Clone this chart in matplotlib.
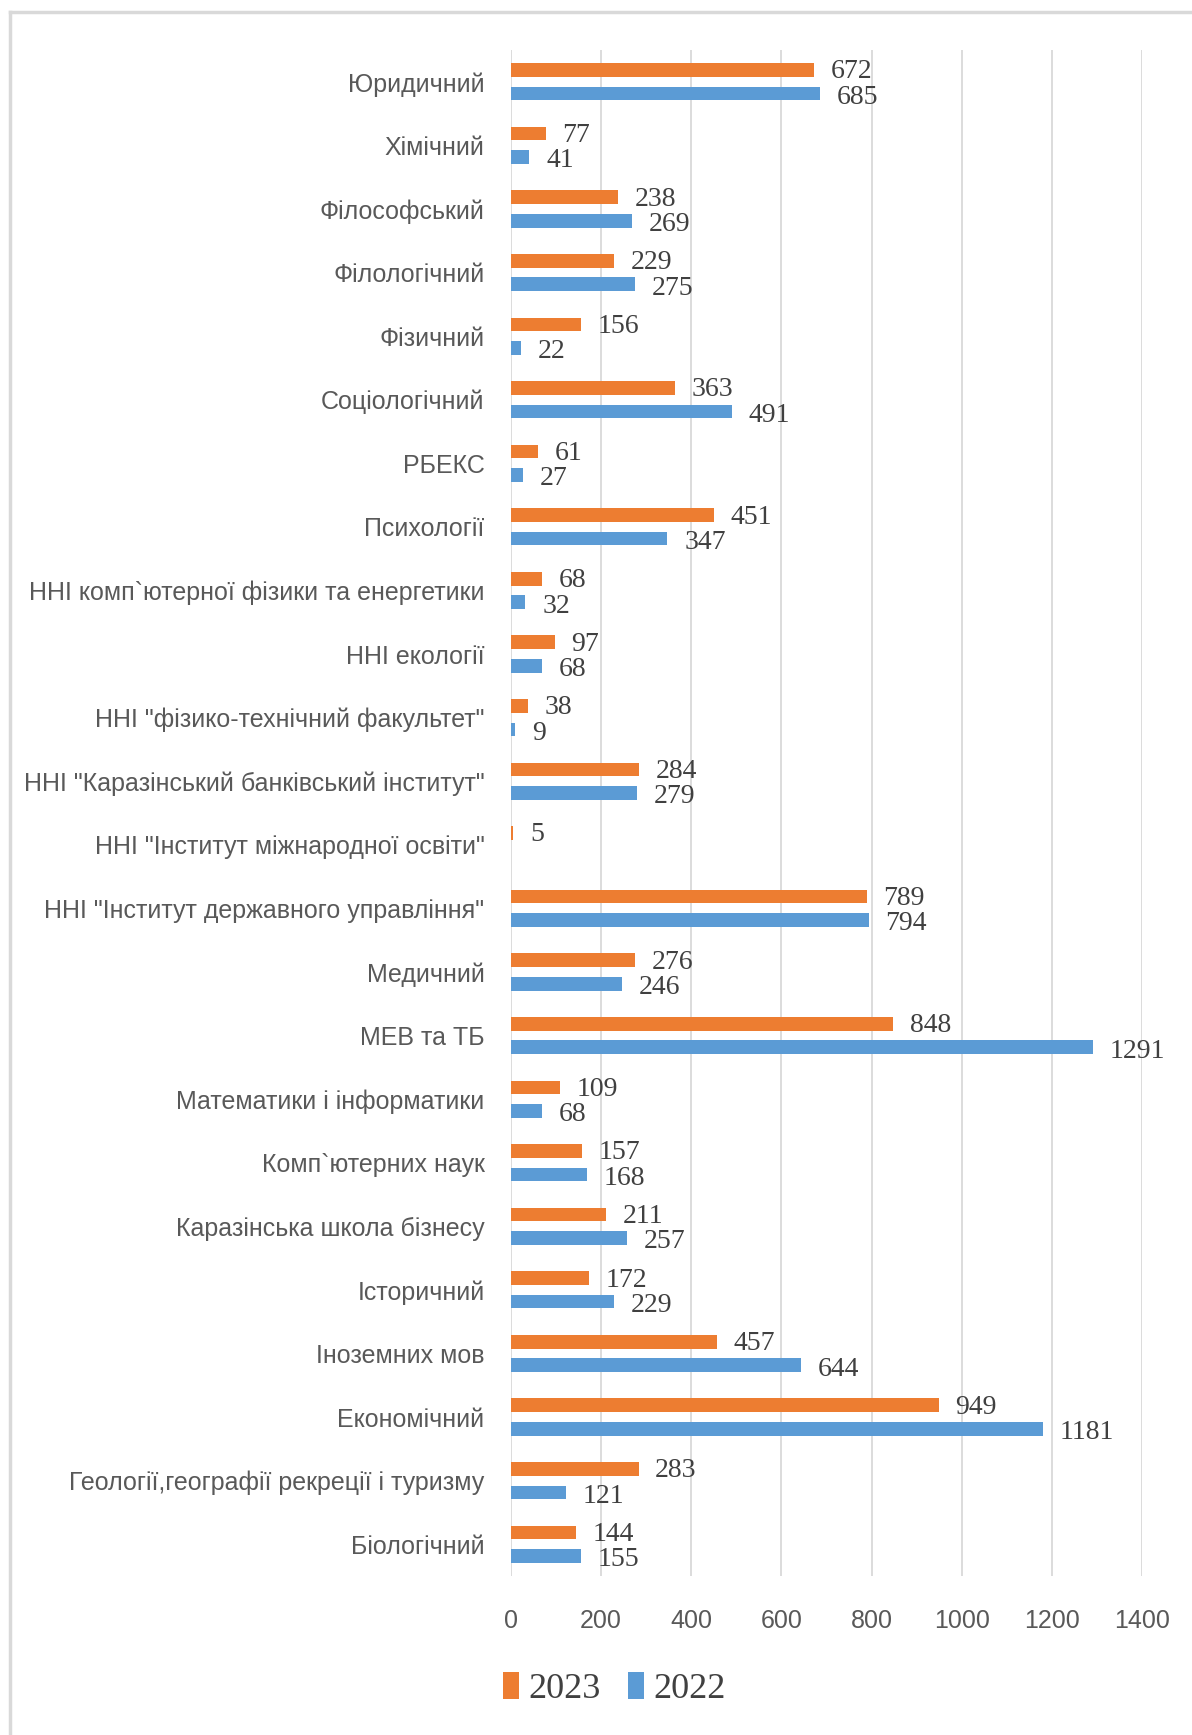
import numpy as np
import matplotlib
matplotlib.use("Agg")
import matplotlib.pyplot as plt
from matplotlib.lines import Line2D

# data (top to bottom as in the picture)
categories = ["Юридичний", "Хімічний", "Філософський", "Філологічний", "Фізичний",
              "Соціологічний", "РБЕКС", "Психології",
              "ННІ комп`ютерної фізики та енергетики", "ННІ екології",
              "ННІ \"фізико-технічний факультет\"",
              "ННІ \"Каразінський банківський інститут\"",
              "ННІ \"Інститут міжнародної освіти\"",
              "ННІ \"Інститут державного управління\"",
              "Медичний", "МЕВ та ТБ", "Математики і інформатики", "Комп`ютерних наук",
              "Каразінська школа бізнесу", "Історичний", "Іноземних мов", "Економічний",
              "Геології,географії рекреції і туризму", "Біологічний"]
v2023 = [672, 77, 238, 229, 156, 363, 61, 451, 68, 97, 38, 284, 5, 789, 276, 848,
         109, 157, 211, 172, 457, 949, 283, 144]
v2022 = [685, 41, 269, 275, 22, 491, 27, 347, 32, 68, 9, 279, np.nan, 794, 246, 1291,
         68, 168, 257, 229, 644, 1181, 121, 155]
xticks = [0, 200, 400, 600, 800, 1000, 1200, 1400]

orange = "#ED7D31"
blue = "#5B9BD5"
gray_txt = "#595959"
grid_c = "#D9D9D9"
sans = ["Liberation Sans", "DejaVu Sans"]
serif = ["Liberation Serif", "DejaVu Serif"]

W, H = 1192, 1735
fig = plt.figure(figsize=(W / 100, H / 100), dpi=100)
fig.patch.set_facecolor("white")

top_px, bot_px, left_px, right_px = 50, 1576, 511, 1142
ax = fig.add_axes([left_px / W, 1 - bot_px / H, (right_px - left_px) / W, (bot_px - top_px) / H])

y = np.arange(len(categories))
h = 0.215
off = 0.185
b1 = ax.barh(y - off, v2023, height=h, color=orange, label="2023", zorder=3)
b2 = ax.barh(y + off, v2022, height=h, color=blue, label="2022", zorder=3)

for bars, vals, dy in ((b1, v2023, 0.03), (b2, v2022, 0.06)):
    for rect, v in zip(bars, vals):
        if np.isnan(v):
            continue
        ax.annotate(str(int(v)), (v, rect.get_y() + rect.get_height() / 2 + dy),
                    xytext=(12, 0), textcoords="offset points",
                    ha="left", va="center", family=serif, fontsize=20, color="#404040")

ax.set_xlim(0, 1400)
ax.set_ylim(len(categories) - 0.5, -0.5)
ax.set_xticks(xticks)
ax.set_yticks(y)
ax.set_yticklabels(categories)
for t in ax.get_yticklabels() + ax.get_xticklabels():
    t.set_family(sans)
    t.set_fontsize(18)
    t.set_color(gray_txt)
ax.tick_params(axis="y", length=0, pad=19)
ax.tick_params(axis="x", length=0, pad=24)
ax.grid(axis="x", color=grid_c, linewidth=1.3, zorder=0)
for s in ax.spines.values():
    s.set_visible(False)

fig.legend(handles=[b1, b2], labels=["2023", "2022"], loc="center left",
           bbox_to_anchor=(503 / W, 1 - 1689 / H), ncol=2, frameon=False,
           borderaxespad=0, borderpad=0,
           prop=dict(family=serif, size=26),
           handlelength=0.45, handleheight=0.75, handletextpad=0.25,
           columnspacing=0.75, labelcolor="#404040")

# light frame around the chart (left and top edges visible)
fig.add_artist(Line2D([10 / W, 10 / W], [0, 1 - 12 / H], color=grid_c, linewidth=2.5,
                      transform=fig.transFigure))
fig.add_artist(Line2D([10 / W, 1], [1 - 12 / H, 1 - 12 / H], color=grid_c, linewidth=2.5,
                      transform=fig.transFigure))

fig.savefig("out.png", dpi=100)
